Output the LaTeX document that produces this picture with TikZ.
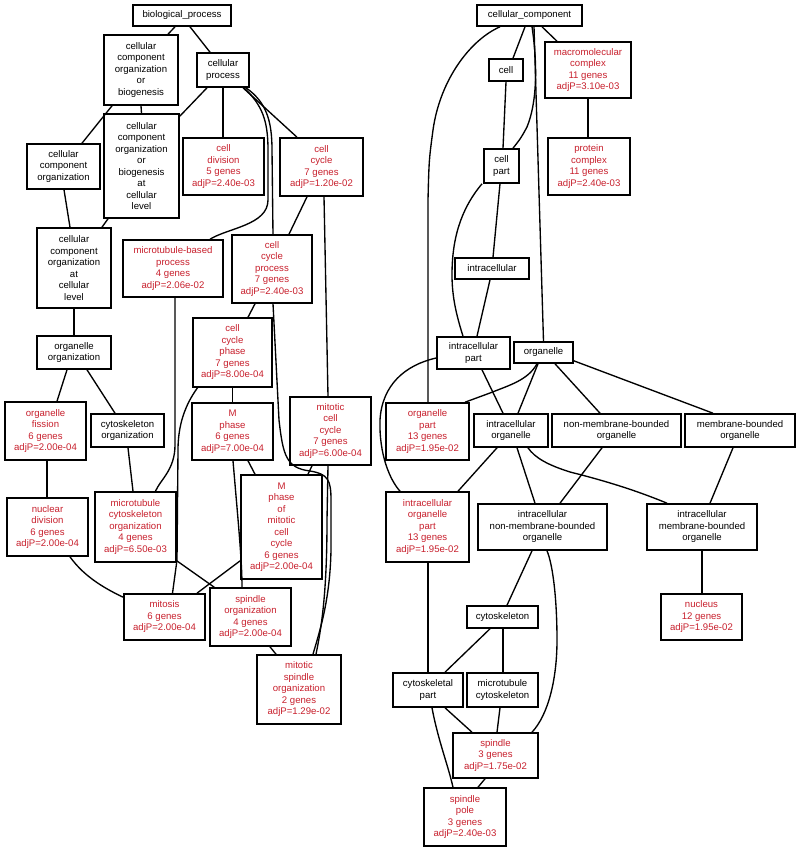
\documentclass[tikz,border=0pt]{standalone}
\usepackage{fontspec}
\setmainfont{Liberation Sans}
\definecolor{sig}{RGB}{200,32,45}
\begin{document}
\begin{tikzpicture}[x=1pt,y=-1pt,
  nd/.style={draw=black, line width=1.6pt, rectangle, inner sep=0pt, align=center, font=\fontsize{9.6}{11.5}\selectfont},
  bk/.style={nd, text=black},
  rd/.style={nd, text=sig},
  ln/.style={line width=1.35pt, black},
  sz/.style 2 args={minimum width=#1pt, minimum height=#2pt}]
\useasboundingbox[fill=white] (0,0) rectangle (800,851);
% ---------- left tree ----------
\node[bk,sz={98}{21}] (bp) at (182,15.5) {biological\_process};
\node[bk,sz={74}{70}] (ccoob) at (141,70) {cellular\\component\\organization\\or\\biogenesis};
\node[bk,sz={52}{34}] (cp) at (223,70) {cellular\\process};
\node[bk,sz={75}{104}] (ccoobcl) at (141.5,166) {cellular\\component\\organization\\or\\biogenesis\\at\\cellular\\level};
\node[bk,sz={73}{45}] (cco) at (63.5,166.5) {cellular\\component\\organization};
\node[rd,sz={81}{57}] (cdiv) at (223.5,166.5) {cell\\division\\5 genes\\adjP=2.40e-03};
\node[rd,sz={83}{58}] (ccyc) at (321.5,167) {cell\\cycle\\7 genes\\adjP=1.20e-02};
\node[bk,sz={74}{80}] (ccocl) at (74,268) {cellular\\component\\organization\\at\\cellular\\level};
\node[rd,sz={100}{57}] (mbp) at (173,268.5) {microtubule-based\\process\\4 genes\\adjP=2.06e-02};
\node[rd,sz={80}{68}] (ccp) at (272,269) {cell\\cycle\\process\\7 genes\\adjP=2.40e-03};
\node[rd,sz={79}{69}] (ccph) at (232.5,352.5) {cell\\cycle\\phase\\7 genes\\adjP=8.00e-04};
\node[bk,sz={74}{33}] (oorg) at (74,352.5) {organelle\\organization};
\node[rd,sz={81}{58}] (ofis) at (45.5,431) {organelle\\fission\\6 genes\\adjP=2.00e-04};
\node[bk,sz={73}{33}] (csorg) at (127.5,430.5) {cytoskeleton\\organization};
\node[rd,sz={81}{57}] (mph) at (232.5,431.5) {M\\phase\\6 genes\\adjP=7.00e-04};
\node[rd,sz={81}{68}] (mcc) at (330.5,431) {mitotic\\cell\\cycle\\7 genes\\adjP=6.00e-04};
\node[rd,sz={81}{58}] (ndiv) at (47.5,527) {nuclear\\division\\6 genes\\adjP=2.00e-04};
\node[rd,sz={81}{70}] (mtco) at (135.5,527) {microtubule\\cytoskeleton\\organization\\4 genes\\adjP=6.50e-03};
\node[rd,sz={81}{104}] (mpmcc) at (281.5,527) {M\\phase\\of\\mitotic\\cell\\cycle\\6 genes\\adjP=2.00e-04};
\node[rd,sz={81}{46}] (mit) at (164.5,617) {mitosis\\6 genes\\adjP=2.00e-04};
\node[rd,sz={81}{58}] (sorg) at (250.5,617) {spindle\\organization\\4 genes\\adjP=2.00e-04};
\node[rd,sz={84}{69}] (msorg) at (299,689.5) {mitotic\\spindle\\organization\\2 genes\\adjP=1.29e-02};
% ---------- right tree ----------
\node[bk,sz={105}{21}] (cc) at (529.5,15.5) {cellular\_component};
\node[bk,sz={34}{22}] (cell) at (506,70) {cell};
\node[rd,sz={86}{56}] (macc) at (588,70) {macromolecular\\complex\\11 genes\\adjP=3.10e-03};
\node[rd,sz={82}{57}] (protc) at (589,166.5) {protein\\complex\\11 genes\\adjP=2.40e-03};
\node[bk,sz={35}{34}] (cpart) at (501.5,166) {cell\\part};
\node[bk,sz={74}{21}] (intra) at (492,268.5) {intracellular};
\node[bk,sz={73}{32}] (intrap) at (473.5,353) {intracellular\\part};
\node[bk,sz={59}{21}] (org) at (543.5,352.5) {organelle};
\node[rd,sz={83}{57}] (orgp) at (427.5,431.5) {organelle\\part\\13 genes\\adjP=1.95e-02};
\node[bk,sz={74}{33}] (io) at (511,430.5) {intracellular\\organelle};
\node[bk,sz={129}{33}] (nmbo) at (616.5,430.5) {non-membrane-bounded\\organelle};
\node[bk,sz={110}{33}] (mbo) at (740,430.5) {membrane-bounded\\organelle};
\node[rd,sz={83}{70}] (iop) at (427.5,527) {intracellular\\organelle\\part\\13 genes\\adjP=1.95e-02};
\node[bk,sz={129}{46}] (inmbo) at (542.5,527) {intracellular\\non-membrane-bounded\\organelle};
\node[bk,sz={110}{46}] (imbo) at (702,527) {intracellular\\membrane-bounded\\organelle};
\node[rd,sz={81}{46}] (nuc) at (701.5,617) {nucleus\\12 genes\\adjP=1.95e-02};
\node[bk,sz={71}{22}] (csk) at (502.5,617) {cytoskeleton};
\node[bk,sz={70}{34}] (cskp) at (428,690) {cytoskeletal\\part};
\node[bk,sz={71}{34}] (mtcsk) at (502.5,690) {microtubule\\cytoskeleton};
\node[rd,sz={85}{45}] (spd) at (495.5,755.5) {spindle\\3 genes\\adjP=1.75e-02};
\node[rd,sz={82}{58}] (spp) at (465,817) {spindle\\pole\\3 genes\\adjP=2.40e-03};
% ---------- left edges ----------
\draw[ln] ([xshift=-7pt]bp.south) -- ([xshift=27pt]ccoob.north);
\draw[ln] ([xshift=8pt]bp.south) -- ([xshift=-13pt]cp.north);
\draw[ln] (ccoob.south) -- (ccoobcl.north);
\draw[ln] ([xshift=-29pt]ccoob.south) -- ([xshift=18.5pt]cco.north);
\draw[ln] ([xshift=-16pt]cp.south) -- ([yshift=-3pt]ccoobcl.north east);
\draw[ln] (cp.south) -- ([xshift=-0.5pt]cdiv.north);
\draw[ln] ([xshift=20pt]cp.south) -- ([xshift=-24.5pt]ccyc.north);
\draw[ln] ([xshift=21pt]cp.south) .. controls (262,105) and (268,120) .. (268,150)
  -- (268,200) .. controls (268,225) and (228,228) .. ([xshift=37pt]mbp.north);
\draw[ln] ([xshift=23pt]cp.south) .. controls (266,102) and (272,120) .. (272,150)
  -- (273,235);
\draw[ln] ([xshift=0.5pt]cco.south) -- ([xshift=-4pt]ccocl.north);
\draw[ln] ([xshift=-33.5pt]ccoobcl.south) -- ([xshift=28pt]ccocl.north);
\draw[ln] ([xshift=-14.5pt]ccyc.south) -- ([xshift=17pt]ccp.north);
\draw[ln] ([xshift=2.5pt]ccyc.south) -- ([xshift=-2.5pt]mcc.north);
\draw[ln] (ccocl.south) -- (oorg.north);
\draw[ln] ([xshift=-17pt]ccp.south) -- ([xshift=15.5pt]ccph.north);
\draw[ln] ([xshift=1pt]ccp.south) -- (279,420) .. controls (283,455) and (286,468) .. (310,471)
  .. controls (328,474) and (331,480) .. (331,500) -- (331,550)
  .. controls (330,600) and (320,630) .. ([xshift=14pt]msorg.north);
\draw[ln] ([xshift=-2.5pt]mcc.south) -- (327,520) .. controls (327,590) and (322,625) .. ([xshift=17pt]msorg.north);
\draw[ln] ([xshift=2pt]mbp.south) -- (175,445) .. controls (175,470) and (160,480) .. ([xshift=20pt]mtco.north);
\draw[ln] ([xshift=-35pt]ccph.south) .. controls (185,405) and (178,425) .. (178,450)
  -- (177,560) -- ([xshift=8pt]mit.north);
\draw[ln] (ccph.south) -- (mph.north);
\draw[ln] ([xshift=-7pt]oorg.south) -- ([xshift=11.5pt]ofis.north);
\draw[ln] ([xshift=13pt]oorg.south) -- ([xshift=-12.5pt]csorg.north);
\draw[ln] ([xshift=1.5pt]ofis.south) -- ([xshift=-0.5pt]ndiv.north);
\draw[ln] ([xshift=0.5pt]csorg.south) -- ([xshift=-2.5pt]mtco.north);
\draw[ln] ([xshift=15.5pt]mph.south) -- ([xshift=-26.5pt]mpmcc.north);
\draw[ln] ([xshift=0.5pt]mph.south) .. controls (238,520) and (242,560) .. ([xshift=-8.5pt]sorg.north);
\draw[ln] ([xshift=-18.5pt]mcc.south) -- ([xshift=26.5pt]mpmcc.north);
\draw[ln] ([xshift=22.5pt]ndiv.south) .. controls (85,578) and (108,590) .. ([yshift=-4pt]mit.north west);
\draw[ln] ([yshift=19pt]mpmcc.south west) -- ([xshift=32.5pt]mit.north);
\draw[ln] ([yshift=2pt]mtco.south east) -- ([xshift=5pt]sorg.north west);
\draw[ln] ([xshift=19.5pt]sorg.south) -- ([xshift=-23pt]msorg.north);
% ---------- right edges ----------
\draw[ln] ([xshift=-4.5pt]cc.south) -- ([xshift=7pt]cell.north);
\draw[ln] ([xshift=12.5pt]cc.south) -- ([xshift=-31pt]macc.north);
\draw[ln] ([xshift=2.5pt]cc.south) .. controls (537,60) and (538,100) .. (527,127)
  .. controls (521,138) .. ([xshift=11.5pt]cpart.north);
\draw[ln] ([xshift=4.5pt]cc.south) -- (org.north);
\draw[ln] ([xshift=-29.5pt]cc.south) .. controls (470,40) and (440,80) .. (433,130)
  .. controls (429,160) .. (428,200) -- ([xshift=0.5pt]orgp.north);
\draw[ln] (cell.south) -- ([xshift=1.5pt]cpart.north);
\draw[ln] ([xshift=-1.5pt]cpart.south) -- ([xshift=1pt]intra.north);
\draw[ln] ([xshift=-19.5pt]cpart.south) .. controls (460,210) and (452,240) .. (452,275)
  .. controls (452,300) and (458,320) .. ([xshift=-10.5pt]intrap.north);
\draw[ln] ([xshift=-2pt]intra.south) -- ([xshift=3.5pt]intrap.north);
\draw[ln] ([xshift=8.5pt]intrap.south) -- ([xshift=-8pt]io.north);
\draw[ln] ([yshift=-5pt]intrap.west) .. controls (405,365) and (382,385) .. (380,420)
  .. controls (379,455) and (390,480) .. ([xshift=-27.5pt]iop.north);
\draw[ln] ([xshift=-6.5pt]org.south) .. controls (528,380) and (510,385) .. (490,393)
  .. controls (478,397) .. ([xshift=37.5pt]orgp.north);
\draw[ln] ([xshift=-5.5pt]org.south) -- ([xshift=7pt]io.north);
\draw[ln] ([xshift=11.5pt]org.south) -- ([xshift=-16.5pt]nmbo.north);
\draw[ln] ([yshift=3pt]org.south east) -- ([xshift=-27pt]mbo.north);
\draw[ln] ([xshift=-14pt]io.south) -- ([xshift=30.5pt]iop.north);
\draw[ln] ([xshift=6pt]io.south) -- ([xshift=-7.5pt]inmbo.north);
\draw[ln] ([xshift=17pt]io.south) .. controls (535,458) and (548,465) .. (570,472)
  .. controls (610,482) and (640,492) .. ([xshift=-35pt]imbo.north);
\draw[ln] ([xshift=-14.5pt]nmbo.south) -- ([xshift=17.5pt]inmbo.north);
\draw[ln] ([xshift=-7pt]mbo.south) -- ([xshift=8pt]imbo.north);
\draw[ln] (imbo.south) -- ([xshift=0.5pt]nuc.north);
\draw[ln] ([xshift=-10.5pt]inmbo.south) -- ([xshift=4.5pt]csk.north);
\draw[ln] ([xshift=4.5pt]inmbo.south) .. controls (553,565) and (557,600) .. (557,640)
  .. controls (557,680) and (548,715) .. ([xshift=36.5pt]spd.north);
\draw[ln] ([xshift=0.5pt]iop.south) -- (cskp.north);
\draw[ln] ([xshift=-12.5pt]csk.south) -- ([xshift=17pt]cskp.north);
\draw[ln] ([xshift=0.5pt]csk.south) -- ([xshift=0.5pt]mtcsk.north);
\draw[ln] ([xshift=17pt]cskp.south) -- ([xshift=-23.5pt]spd.north);
\draw[ln] ([xshift=4pt]cskp.south) .. controls (438,740) and (448,765) .. ([xshift=-12pt]spp.north);
\draw[ln] ([xshift=-2.5pt]mtcsk.south) -- ([xshift=1.5pt]spd.north);
\draw[ln] ([xshift=-10.5pt]spd.south) -- ([xshift=13pt]spp.north);
\draw[ln] (macc.south) -- ([xshift=-1pt]protc.north);
\end{tikzpicture}
\end{document}
